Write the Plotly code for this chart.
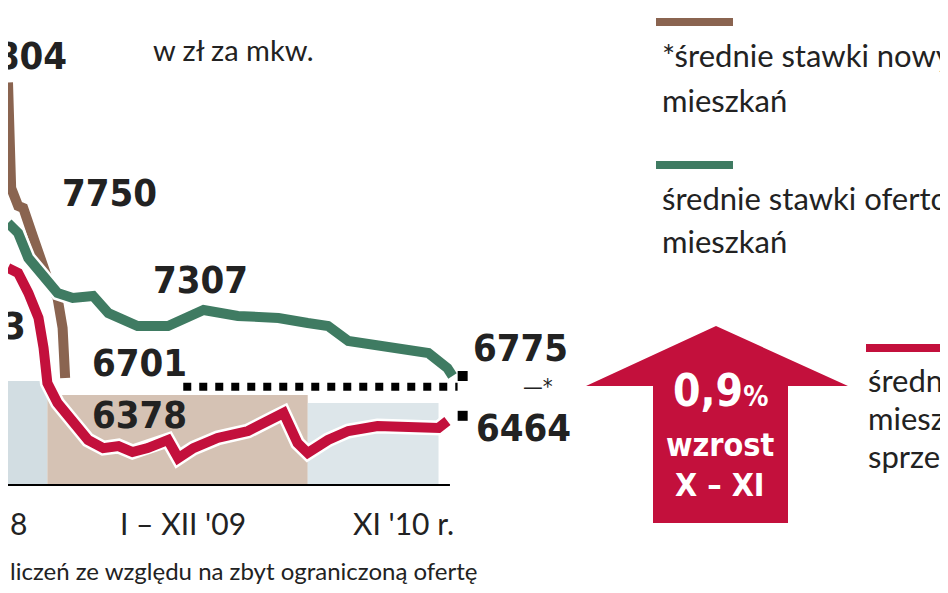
import plotly.graph_objects as go

# months since Jan 2008 (approx.) and prices in zl per sq m
brown_x = [0, 0.25, 0.8, 1.2, 2.0, 3.1, 3.9, 4.3, 4.5]
brown_y = [8804, 8074, 7950, 7936, 7729, 7452, 7314, 7107, 6761]

green_x = [0, 0.8, 1.6, 2.8, 3.9, 5.1, 6.7, 7.9, 10.2, 12.6, 14.2, 15.4, 18.1, 21.3, 23.6, 25.2, 26.8, 29.9, 33.1, 34.6, 35.0]
green_y = [7832, 7763, 7590, 7452, 7349, 7314, 7328, 7210, 7121, 7121, 7176, 7231, 7190, 7176, 7141, 7121, 7017, 6982, 6934, 6830, 6775]

red_x = [0, 0.8, 1.6, 2.4, 2.8, 3.1, 3.9, 5.1, 6.3, 7.5, 8.7, 9.8, 11.0, 12.6, 13.4, 14.6, 16.5, 18.9, 20.9, 21.7, 22.8, 23.6, 25.2, 26.8, 29.1, 31.5, 33.9, 34.6]
red_y = [7521, 7487, 7349, 7176, 6969, 6727, 6589, 6450, 6333, 6277, 6291, 6250, 6277, 6333, 6208, 6277, 6347, 6395, 6485, 6520, 6312, 6243, 6333, 6395, 6430, 6416, 6416, 6464]

ref_x = [13.8, 35.4]
ref_y = [6701, 6701]

W, H = 948, 593
PX_PER_MONTH = 12.7
Y_TOP, ZL_PER_PX = 9318, 6.91
RED = "#c3103c"
NUM_FONT = "DejaVu Sans Condensed"


def px(x):
    return x / W


def py(y):
    return 1 - y / H


fig = go.Figure()

# background panels
panels = [(0, 3.1, 6740, "#c3d1d8"), (3.1, 23.6, 6644, "#c7ad9b"), (23.6, 33.9, 6589, "#d2dde3")]
shapes = []
for x0, x1, top, col in panels:
    shapes.append(dict(type="rect", xref="x", yref="y", x0=x0, x1=x1, y0=6022, y1=top,
                       fillcolor=col, line_width=0, layer="below", opacity=0.75))
shapes.append(dict(type="line", xref="x", yref="y", x0=0, x1=34.8, y0=6022, y1=6022,
                   line=dict(color="black", width=2)))

for xs, ys, col in [(brown_x, brown_y, "#8a6450"), (green_x, green_y, "#3f7b62"), (red_x, red_y, RED)]:
    fig.add_trace(go.Scatter(x=xs, y=ys, mode="lines", line=dict(color="white", width=15),
                             hoverinfo="skip", showlegend=False))
    fig.add_trace(go.Scatter(x=xs, y=ys, mode="lines", line=dict(color=col, width=10),
                             showlegend=False))

fig.add_trace(go.Scatter(x=ref_x, y=ref_y, mode="lines", showlegend=False,
                         line=dict(color="black", width=8, dash="dot")))
fig.add_trace(go.Scatter(x=[35.8, 35.8], y=[6775, 6500], mode="markers", showlegend=False,
                         marker=dict(symbol="square", color="black", size=10)))

# arrow and legend lines (page coordinates)
arrow = [(708, 318), (840, 378), (780, 378), (780, 515), (645, 515), (645, 378), (578, 378)]
path = "M " + " L ".join(f"{px(x)},{py(y)}" for x, y in arrow) + " Z"
shapes.append(dict(type="path", xref="paper", yref="paper", path=path, fillcolor=RED, line_width=0))
for x0, x1, y, col in [(648, 725, 14, "#8a6450"), (648, 725, 157, "#3f7b62"), (858, 948, 340, RED)]:
    shapes.append(dict(type="line", xref="paper", yref="paper", x0=px(x0), x1=px(x1), y0=py(y), y1=py(y),
                       line=dict(color=col, width=8)))

ann = []


def txt(x, y, s, size, bold=False, family="Lato", color="#222", anchor="left"):
    ann.append(dict(xref="paper", yref="paper", x=px(x), y=py(y), text=f"<b>{s}</b>" if bold else s,
                    showarrow=False, xanchor=anchor, yanchor="middle",
                    font=dict(size=size, family=family, color=color)))


txt(-38, 48, "8804", 38, True, NUM_FONT)
txt(143, 42, "w zł za mkw.", 29)
txt(52, 185, "7750", 38, True, NUM_FONT)
txt(143, 272, "7307", 38, True, NUM_FONT)
txt(-8, 318, "3", 38, True, NUM_FONT)
txt(82, 355, "6701", 38, True, NUM_FONT)
txt(82, 407, "6378", 38, True, NUM_FONT)
txt(463, 340, "6775", 38, True, NUM_FONT)
txt(513, 378, "—*", 22, False, NUM_FONT)
txt(466, 420, "6464", 38, True, NUM_FONT)
txt(0, 515, "8", 30)
txt(175, 515, "I – XII '09", 30, anchor="center")
txt(395, 515, "XI '10 r.", 30, anchor="center")
txt(0, 562, "liczeń ze względu na zbyt ograniczoną ofertę", 24)
txt(652, 47, "*średnie stawki nowych", 31)
txt(652, 92, "mieszkań", 31)
txt(652, 190, "średnie stawki ofertowe", 31)
txt(652, 233, "mieszkań", 31)
txt(858, 372, "średnie stawki", 31)
txt(858, 410, "mieszkań", 31)
txt(858, 448, "sprzedanych", 31)
txt(712, 382, "0,9<span style='font-size:28px'>%</span>", 44, True, NUM_FONT, "white", "center")
txt(712, 437, "wzrost", 32, True, NUM_FONT, "white", "center")
txt(712, 477, "X – XI", 32, True, NUM_FONT, "white", "center")

fig.update_layout(
    width=W, height=H, margin=dict(l=0, r=0, t=0, b=0),
    paper_bgcolor="white", plot_bgcolor="white",
    xaxis=dict(domain=[0, 0.5], range=[0, 474 / PX_PER_MONTH], visible=False, fixedrange=True),
    yaxis=dict(domain=[0, 1], range=[Y_TOP - ZL_PER_PX * H, Y_TOP], visible=False, fixedrange=True),
    shapes=shapes, annotations=ann,
)
fig.write_html("out.html", config={"displayModeBar": False})
